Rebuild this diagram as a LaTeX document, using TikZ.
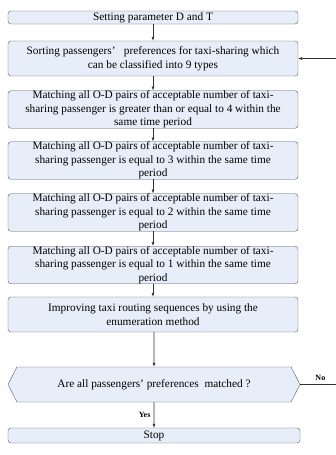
\documentclass[tikz,border=0pt]{standalone}
\usepackage{fontspec}
\setmainfont{Liberation Serif}
\usepackage{tikz}
\usetikzlibrary{arrows.meta,shapes.symbols}

\definecolor{boxfill}{RGB}{232,238,249}
\definecolor{boxline}{RGB}{85,90,102}

\begin{document}
\begin{tikzpicture}[x=1pt,y=-1pt,
        proc/.style={draw=boxline,fill=boxfill,rounded corners=3pt,align=center,
            minimum width=290pt,inner sep=0pt,font=\fontsize{11.3}{13.6}\selectfont},
        dec/.style={draw=boxline,fill=boxfill,shape=signal,signal to=west and east,
            signal pointer angle=126,minimum width=292pt,minimum height=35pt,
            inner sep=0pt,font=\fontsize{11.3}{13.6}\selectfont},
        lbl/.style={font=\fontsize{8}{9}\selectfont\bfseries},
        flow/.style={draw=black!80,line width=0.6pt,->},
        >={Latex[length=4pt,width=3pt]}]
        \useasboundingbox (0,0) rectangle (335,455);
        \node[proc,minimum height=13pt] (set) at (153,17.5) {Setting parameter D and T};
        \node[proc,minimum height=35pt] (sort) at (153,58.5)
            {Sorting passengers’\ \ \ preferences for taxi-sharing which\\can be classified into 9 types};
        \node[proc,minimum height=33pt] (m4) at (153,109.5)
            {Matching all O-D pairs of acceptable number of taxi-\\sharing passenger is greater than or equal to 4 within the\\same time period};
        \node[proc,minimum height=35pt] (m3) at (153,160.5)
            {Matching all O-D pairs of acceptable number of taxi-\\sharing passenger is equal to 3 within the same time\\period};
        \node[proc,minimum height=35pt] (m2) at (153,212.5)
            {Matching all O-D pairs of acceptable number of taxi-\\sharing passenger is equal to 2 within the same time\\period};
        \node[proc,minimum height=36pt] (m1) at (153,265)
            {Matching all O-D pairs of acceptable number of taxi-\\sharing passenger is equal to 1 within the same time\\period};
        \node[proc,minimum height=35pt] (impr) at (153,314.5)
            {Improving taxi routing sequences by using the\\enumeration method};
        \node[dec] (chk) at (154,384.5) {Are all passengers’ preferences\ \ matched ?};
        \node[proc,minimum width=292pt,minimum height=15pt] (stop) at (154,435.5) {Stop};
        \coordinate (back) at (345,384.5);

        \draw[flow] (set) -- (sort);
        \draw[flow] (sort) -- (m4);
        \draw[flow] (m4) -- (m3);
        \draw[flow] (m3) -- (m2);
        \draw[flow] (m2) -- (m1);
        \draw[flow] (m1) -- (impr);
        \draw[flow] (impr.south -| chk) -- (chk);
        \draw[flow] (chk) -- node[lbl,left] {Yes} (stop);
        \draw[flow] (chk.east) -- node[lbl,above,pos=0.45] {No} (back) |- (sort.east);
    \end{tikzpicture}
\end{document}
